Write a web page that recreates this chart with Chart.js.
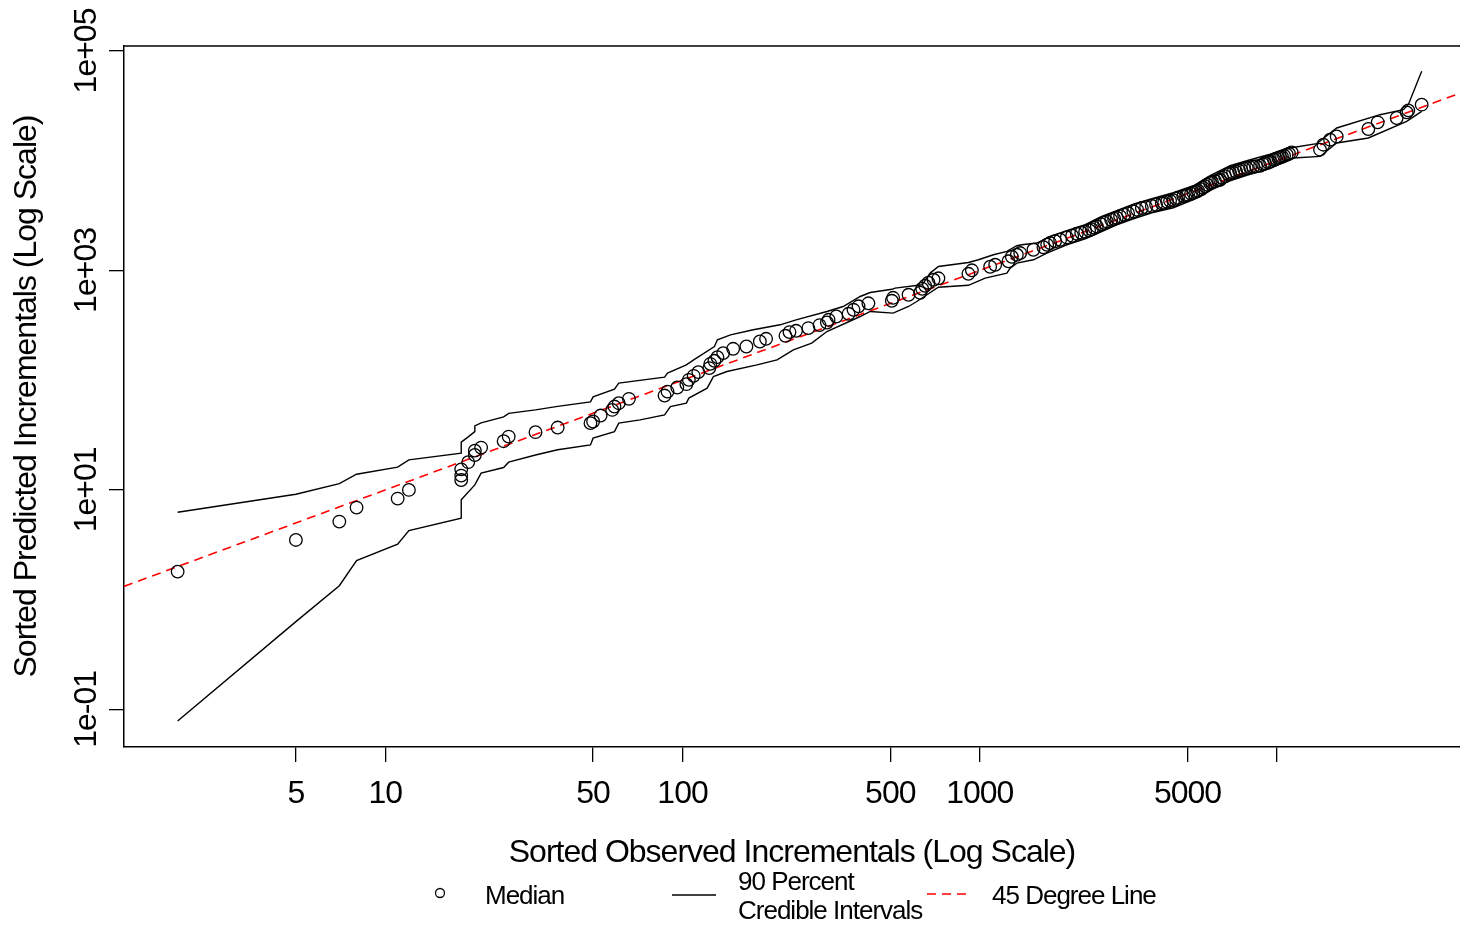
<!DOCTYPE html>
<html>
<head>
<meta charset="utf-8">
<title>Sorted observed vs predicted incrementals</title>
<script src="https://cdn.jsdelivr.net/npm/chart.js@4.4.1/dist/chart.umd.min.js"></script>
<style>
  html, body { margin: 0; padding: 0; background: #fff; }
  #wrap { width: 1460px; height: 927px; position: relative; }
</style>
</head>
<body>
<div id="wrap"><canvas id="chart"></canvas></div>
<script>
// sorted observed incrementals (x) and median of sorted predictions (y)
const medObs = [
  2, 5, 7, 8, 11, 12, 18, 18, 18, 19, 20, 20, 21, 25, 26, 32, 38, 49, 50, 53,
  58, 59, 61, 66, 87, 89, 96, 103, 105, 109, 113, 123, 124, 128, 131, 137, 148, 164, 182, 191,
  222, 229, 241, 265, 289, 306, 310, 329, 362, 376, 391, 422, 506, 511, 576, 630, 640, 655, 672, 699,
  726, 916, 941, 1084, 1127, 1249, 1282, 1333, 1368, 1516, 1638, 1686, 1725, 1793, 1864, 1963, 2046, 2121, 2195, 2263,
  2333, 2383, 2426, 2477, 2561, 2621, 2677, 2767, 2831, 2891, 2966, 3060, 3156, 3289, 3384, 3510, 3629, 3793, 3921, 4097,
  4171, 4269, 4369, 4482, 4577, 4648, 4843, 4946, 5023, 5141, 5233, 5344, 5427, 5555, 5641, 5735, 5821, 5957, 6050, 6193,
  6339, 6437, 6537, 6691, 6849, 6956, 7120, 7288, 7459, 7576, 7754, 7917, 8122, 8313, 8508, 8776, 8982, 9120, 9335, 9480,
  9777, 9931, 10108, 10240, 10401, 10565, 10787, 10982, 11214, 13964, 14326, 15087, 15888, 20300, 21830, 25290, 27330, 27670, 30690
];
const medPred = [
  1.80, 3.50, 5.14, 6.90, 8.33, 10.0, 12.3, 13.5, 15.4, 17.9, 20.8, 22.8, 24.3, 27.8, 30.6, 33.6, 37.0, 40.6, 42.0, 47.6,
  53.6, 57.5, 61.7, 67.6, 72.4, 78.7, 85.7, 92.0, 100.7, 109.5, 118.4, 128.8, 140.9, 150.1, 162.2, 176.4, 193.1, 202.7, 225.1, 238.2,
  253.7, 274.2, 281.8, 298.2, 317.6, 335.4, 354.9, 380.3, 402.6, 437.8, 471.2, 501.9, 529, 563, 600, 626, 681, 725, 772, 822,
  848, 932, 1003, 1080, 1126, 1212, 1332, 1389, 1440, 1543, 1627, 1714, 1776, 1845, 1904, 1998, 2070, 2159, 2205, 2252,
  2324, 2373, 2449, 2517, 2636, 2721, 2796, 2897, 2958, 3021, 3117, 3217, 3320, 3449, 3574, 3704, 3767, 3871, 3970, 4097,
  4140, 4228, 4317, 4363, 4503, 4598, 4748, 4845, 4896, 5000, 5106, 5214, 5325, 5496, 5672, 5853, 6039, 6261, 6367, 6501,
  6639, 6709, 6997, 7221, 7533, 7721, 7821, 7935, 8104, 8275, 8450, 8575, 8720, 8813, 8905, 9000, 9290, 9487, 9688, 9851,
  10209, 10426, 10580, 10760, 10873, 11102, 11339, 11580, 11904, 12600, 13990, 15540, 16660, 19460, 22360, 24510, 27570, 28750, 32410
];

// upper 90% credible limit
const upObs = [
  2, 5, 7, 8, 11, 12, 18, 18, 19, 20, 20, 21, 25, 26, 32, 38, 49, 50, 59, 61,
  87, 89, 103, 109, 128, 131, 145, 173, 213, 241, 306, 347, 396, 428, 506, 519, 640, 681, 726, 916,
  990, 1112, 1234, 1333, 1386, 1556, 1725, 1963, 2263, 2561, 2891, 3289, 3793, 4482, 5233, 5957, 6956, 7917, 9480, 11070,
  13610, 15888, 22230, 26630, 27670, 30690
];
const upPred = [
  6.26, 9.14, 11.4, 13.9, 16.1, 18.8, 21.6, 27.2, 30.4, 34.0, 38.3, 40.8, 46.3, 49.8, 53.6, 57.7, 63.4, 70.5, 82.8, 94.0,
  106.6, 115.9, 138, 153.2, 202.7, 233.2, 259, 287.7, 319.6, 354.9, 422.6, 469.4, 578.8, 629.5, 673.3, 690.6, 740, 946, 1087, 1182,
  1251, 1389, 1489, 1679, 1714, 1776, 2040, 2300, 2609, 3086, 3499, 4012, 4502, 5106, 5915, 7297, 9000, 10000, 11460, 13060,
  14290, 19870, 26260, 29160, 32400, 65200
];

// lower 90% credible limit
const loObs = [
  2, 5, 7, 8, 11, 12, 18, 18, 20, 21, 25, 26, 32, 38, 49, 50, 59, 61, 72, 87,
  91, 103, 105, 121, 127, 141, 178, 208, 236, 272, 306, 396, 428, 511, 576, 614, 664, 726, 916, 1043,
  1234, 1266, 1333, 1516, 1682, 1963, 2263, 2561, 2891, 3289, 3793, 4482, 5233, 5957, 6956, 7917, 9480, 11360, 13964, 15888,
  20300, 27330, 30690
];
const loPred = [
  0.0783, 0.630, 1.34, 2.27, 3.20, 4.26, 5.52, 8.11, 11.1, 14.2, 16.0, 17.9, 20.8, 23.2, 25.7, 29.6, 34.0, 40.6, 43.5, 48.3,
  57.5, 61.7, 68.6, 84.6, 107.9, 119.9, 138, 153.2, 189.1, 217.6, 277.6, 380.3, 422.6, 408.6, 469.4, 521.2, 600, 702.2, 732.3, 852,
  946, 1051, 1167, 1251, 1440, 1714, 1945, 2252, 2609, 2959, 3356, 3727, 4410, 5325, 6572, 7375, 8453, 10580, 10940, 14500,
  16100, 22820, 28150
];

// 45 degree line ends (same value on both axes)
const refLine = [1.32, 41300];

const xTicks = [5, 10, 50, 100, 500, 1000, 5000, 10000];
const xTickLabels = ["5", "10", "50", "100", "500", "1000", "5000", ""];
const yTicks = [0.1, 10, 1000, 100000];
const yTickLabels = ["1e-01", "1e+01", "1e+03", "1e+05"];

const FONT = "'Liberation Sans', Arial, sans-serif";
Chart.defaults.font.family = FONT;
Chart.defaults.color = "#000";

const pairs = (xs, ys) => xs.map((x, i) => ({ x: x, y: ys[i] }));

// tighten letters a bit, the original text is rather condensed
const spacing = {
  id: "spacing",
  beforeLayout(chart) { chart.ctx.letterSpacing = "-1px"; },
  beforeDraw(chart) { chart.ctx.letterSpacing = "-1px"; }
};

// top edge of the box + legend below the axis title
const boxAndLegend = {
  id: "boxAndLegend",
  afterDraw(chart) {
    const ctx = chart.ctx;
    const a = chart.chartArea;
    ctx.save();
    ctx.strokeStyle = "#000";
    ctx.lineWidth = 1.5;
    ctx.beginPath();
    ctx.moveTo(a.left, a.top);
    ctx.lineTo(a.right, a.top);
    ctx.stroke();

    ctx.letterSpacing = "-1px";
    ctx.font = "26px " + FONT;
    ctx.fillStyle = "#000";
    ctx.textBaseline = "middle";
    ctx.textAlign = "left";

    ctx.lineWidth = 1.3;
    ctx.beginPath();
    ctx.arc(440, 893, 4.5, 0, Math.PI * 2);
    ctx.stroke();
    ctx.fillText("Median", 485, 897);

    ctx.beginPath();
    ctx.moveTo(672, 895);
    ctx.lineTo(716, 895);
    ctx.stroke();
    ctx.fillText("90 Percent", 738, 883);
    ctx.fillText("Credible Intervals", 738, 912);

    ctx.strokeStyle = "#ff0000";
    ctx.lineWidth = 1.6;
    ctx.setLineDash([9, 6]);
    ctx.beginPath();
    ctx.moveTo(927, 894);
    ctx.lineTo(970, 894);
    ctx.stroke();
    ctx.setLineDash([]);
    ctx.fillText("45 Degree Line", 992, 897);
    ctx.restore();
  }
};

const chart = document.querySelector("#chart").getContext("2d");

new Chart(chart, {
  type: "scatter",
  data: {
    datasets: [
      {
        label: "Median",
        data: pairs(medObs, medPred),
        showLine: false,
        pointRadius: 6.3,
        pointBorderWidth: 1.3,
        pointBorderColor: "#000",
        pointBackgroundColor: "rgba(0,0,0,0)"
      },
      {
        label: "Upper",
        data: pairs(upObs, upPred),
        showLine: true,
        pointRadius: 0,
        borderColor: "#000",
        borderWidth: 1.4,
        tension: 0
      },
      {
        label: "Lower",
        data: pairs(loObs, loPred),
        showLine: true,
        pointRadius: 0,
        borderColor: "#000",
        borderWidth: 1.4,
        tension: 0
      },
      {
        label: "45 Degree Line",
        data: pairs(refLine, refLine),
        showLine: true,
        pointRadius: 0,
        borderColor: "#ff0000",
        borderWidth: 1.6,
        borderDash: [9, 6],
        tension: 0
      }
    ]
  },
  options: {
    responsive: true,
    maintainAspectRatio: false,
    animation: false,
    events: [],
    layout: { autoPadding: false, padding: { top: 46, left: 0, right: 0, bottom: 0 } },
    plugins: {
      legend: { display: false },
      tooltip: { enabled: false }
    },
    scales: {
      x: {
        type: "logarithmic",
        position: "bottom",
        min: 1.32,
        max: 41300,
        afterBuildTicks: (ax) => { ax.ticks = xTicks.map((v) => ({ value: v })); },
        afterFit: (ax) => { ax.height = 180; ax.paddingLeft = 0; ax.paddingRight = 0; },
        ticks: {
          autoSkip: false,
          maxRotation: 0,
          minRotation: 0,
          padding: 13,
          color: "#000",
          font: { size: 32 },
          callback: (v, i) => xTickLabels[i]
        },
        grid: { drawOnChartArea: false, drawTicks: true, tickLength: 15, color: "#000", lineWidth: 1.3 },
        border: { display: true, color: "#000", width: 1.5 },
        title: {
          display: true,
          text: "Sorted Observed Incrementals (Log Scale)",
          color: "#000",
          font: { size: 32 },
          padding: { top: 0, bottom: 55 }
        }
      },
      y: {
        type: "logarithmic",
        position: "left",
        min: 0.0454,
        max: 111000,
        afterBuildTicks: (ax) => { ax.ticks = yTicks.map((v) => ({ value: v })); },
        afterFit: (ax) => { ax.width = 124; ax.paddingTop = 0; ax.paddingBottom = 0; },
        ticks: {
          autoSkip: false,
          minRotation: 90,
          maxRotation: 90,
          crossAlign: "center",
          padding: -21,
          color: "#000",
          font: { size: 32 },
          callback: (v, i) => yTickLabels[i]
        },
        grid: { drawOnChartArea: false, drawTicks: true, tickLength: 15, color: "#000", lineWidth: 1.3 },
        border: { display: true, color: "#000", width: 1.5 },
        title: {
          display: true,
          text: "Sorted Predicted Incrementals (Log Scale)",
          color: "#000",
          font: { size: 32 },
          padding: { top: 8, bottom: 0 }
        }
      }
    }
  },
  plugins: [spacing, boxAndLegend]
});
</script>
</body>
</html>
